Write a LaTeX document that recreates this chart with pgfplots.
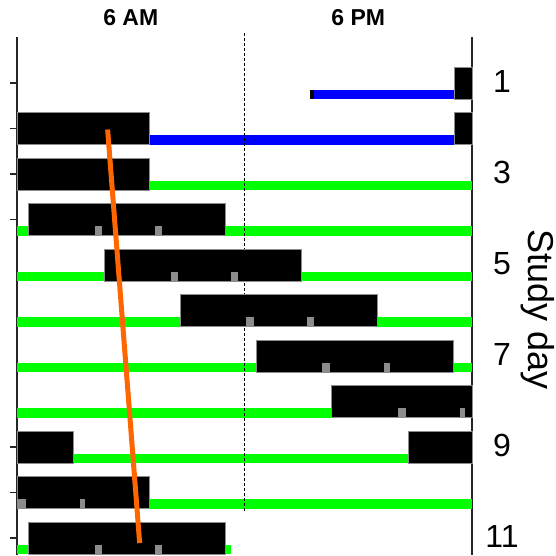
\documentclass[border=0pt]{standalone}
\usepackage{pgfplots}
\pgfplotsset{compat=1.18}
\usepackage{fontspec}
\setmainfont{Liberation Sans}
\definecolor{grn}{RGB}{0,255,0}
\definecolor{blu}{RGB}{0,0,255}
\definecolor{org}{RGB}{255,102,0}
\definecolor{mark}{RGB}{140,140,140}
\tikzset{numlbl/.style={font=\fontsize{32}{32}\selectfont}}
\begin{document}
\begin{tikzpicture}
\begin{axis}[
  at={(17pt,-37pt)}, anchor=north west,
  scale only axis, width=455pt, height=517.9pt,
  xmin=0, xmax=24, ymin=-0.363, ymax=11.02, y dir=reverse,
  axis x line=none, axis y line=box,
  xtick=\empty,
  ytick={0.65,1.65,2.65,3.65,8.65,9.65,10.65}, yticklabels={},
  ytick pos=left, tick align=outside, major tick length=7pt,
  major tick style={line width=1.5pt, black!85},
  axis line style={line width=1.5pt, black!85},
  clip=false,
]
% ---- blue lines (rows 1-2)
\addplot[fill=blu, draw=none] coordinates {(15.47,0.8) (23.06,0.8) (23.06,1) (15.47,1)} --cycle;
\addplot[fill=black, draw=none] coordinates {(15.47,0.8) (15.65,0.8) (15.65,1) (15.47,1)} --cycle;
\addplot[fill=blu, draw=none] coordinates {(7.0,1.8) (23.06,1.8) (23.06,2) (7.0,2)} --cycle;
% ---- green lines
\addplot[fill=grn, draw=none] coordinates {(7.0,2.8) (24,2.8) (24,3) (7.0,3)} --cycle;
\addplot[fill=grn, draw=none] coordinates {(0,3.8) (0.6,3.8) (0.6,4) (0,4)} --cycle;
\addplot[fill=grn, draw=none] coordinates {(11.0,3.8) (24,3.8) (24,4) (11.0,4)} --cycle;
\addplot[fill=grn, draw=none] coordinates {(0,4.8) (4.6,4.8) (4.6,5) (0,5)} --cycle;
\addplot[fill=grn, draw=none] coordinates {(15.0,4.8) (24,4.8) (24,5) (15.0,5)} --cycle;
\addplot[fill=grn, draw=none] coordinates {(0,5.8) (8.6,5.8) (8.6,6) (0,6)} --cycle;
\addplot[fill=grn, draw=none] coordinates {(19.0,5.8) (24,5.8) (24,6) (19.0,6)} --cycle;
\addplot[fill=grn, draw=none] coordinates {(0,6.8) (12.6,6.8) (12.6,7) (0,7)} --cycle;
\addplot[fill=grn, draw=none] coordinates {(23.0,6.8) (24,6.8) (24,7) (23.0,7)} --cycle;
\addplot[fill=grn, draw=none] coordinates {(0,7.8) (16.6,7.8) (16.6,8) (0,8)} --cycle;
\addplot[fill=grn, draw=none] coordinates {(2.96,8.8) (20.66,8.8) (20.66,9) (2.96,9)} --cycle;
\addplot[fill=grn, draw=none] coordinates {(7.0,9.8) (24,9.8) (24,10) (7.0,10)} --cycle;
\addplot[fill=grn, draw=none] coordinates {(0,10.8) (0.6,10.8) (0.6,11) (0,11)} --cycle;
\addplot[fill=grn, draw=none] coordinates {(11.0,10.8) (11.3,10.8) (11.3,11) (11.0,11)} --cycle;
% ---- dotted noon line
\addplot[black, line width=1.8pt, dash pattern=on 2.5pt off 2.5pt] coordinates {(12,-0.45) (12,10.1)};
% ---- black sleep boxes
\addplot[fill=black, draw=black!45, line width=0.6pt] coordinates {(23.06,0.3) (24,0.3) (24,1) (23.06,1)} --cycle;
\addplot[fill=black, draw=black!45, line width=0.6pt] coordinates {(0,1.3) (7.0,1.3) (7.0,2) (0,2)} --cycle;
\addplot[fill=black, draw=black!45, line width=0.6pt] coordinates {(23.06,1.3) (24,1.3) (24,2) (23.06,2)} --cycle;
\addplot[fill=black, draw=black!45, line width=0.6pt] coordinates {(0,2.3) (7.0,2.3) (7.0,3) (0,3)} --cycle;
\addplot[fill=black, draw=black!45, line width=0.6pt] coordinates {(0.6,3.3) (11.0,3.3) (11.0,4) (0.6,4)} --cycle;
\addplot[fill=black, draw=black!45, line width=0.6pt] coordinates {(4.6,4.3) (15.0,4.3) (15.0,5) (4.6,5)} --cycle;
\addplot[fill=black, draw=black!45, line width=0.6pt] coordinates {(8.6,5.3) (19.0,5.3) (19.0,6) (8.6,6)} --cycle;
\addplot[fill=black, draw=black!45, line width=0.6pt] coordinates {(12.6,6.3) (23.0,6.3) (23.0,7) (12.6,7)} --cycle;
\addplot[fill=black, draw=black!45, line width=0.6pt] coordinates {(16.6,7.3) (24,7.3) (24,8) (16.6,8)} --cycle;
\addplot[fill=black, draw=black!45, line width=0.6pt] coordinates {(0,8.3) (2.96,8.3) (2.96,9) (0,9)} --cycle;
\addplot[fill=black, draw=black!45, line width=0.6pt] coordinates {(20.66,8.3) (24,8.3) (24,9) (20.66,9)} --cycle;
\addplot[fill=black, draw=black!45, line width=0.6pt] coordinates {(0,9.3) (7.0,9.3) (7.0,10) (0,10)} --cycle;
\addplot[fill=black, draw=black!45, line width=0.6pt] coordinates {(0.6,10.3) (11.0,10.3) (11.0,11) (0.6,11)} --cycle;
% ---- grey markers
\addplot[fill=mark, draw=none] coordinates {(4.1,3.8) (4.5,3.8) (4.5,4) (4.1,4)} --cycle;
\addplot[fill=mark, draw=none] coordinates {(7.3,3.8) (7.65,3.8) (7.65,4) (7.3,4)} --cycle;
\addplot[fill=mark, draw=none] coordinates {(8.1,4.8) (8.5,4.8) (8.5,5) (8.1,5)} --cycle;
\addplot[fill=mark, draw=none] coordinates {(11.3,4.8) (11.65,4.8) (11.65,5) (11.3,5)} --cycle;
\addplot[fill=mark, draw=none] coordinates {(12.1,5.8) (12.5,5.8) (12.5,6) (12.1,6)} --cycle;
\addplot[fill=mark, draw=none] coordinates {(15.3,5.8) (15.65,5.8) (15.65,6) (15.3,6)} --cycle;
\addplot[fill=mark, draw=none] coordinates {(16.1,6.8) (16.5,6.8) (16.5,7) (16.1,7)} --cycle;
\addplot[fill=mark, draw=none] coordinates {(19.35,6.8) (19.65,6.8) (19.65,7) (19.35,7)} --cycle;
\addplot[fill=mark, draw=none] coordinates {(20.1,7.8) (20.5,7.8) (20.5,8) (20.1,8)} --cycle;
\addplot[fill=mark, draw=none] coordinates {(23.35,7.8) (23.65,7.8) (23.65,8) (23.35,8)} --cycle;
\addplot[fill=mark, draw=none] coordinates {(0.05,9.8) (0.45,9.8) (0.45,10) (0.05,10)} --cycle;
\addplot[fill=mark, draw=none] coordinates {(3.3,9.8) (3.6,9.8) (3.6,10) (3.3,10)} --cycle;
\addplot[fill=mark, draw=none] coordinates {(4.1,10.8) (4.5,10.8) (4.5,11) (4.1,11)} --cycle;
\addplot[fill=mark, draw=none] coordinates {(7.3,10.8) (7.65,10.8) (7.65,11) (7.3,11)} --cycle;
% ---- orange trend line
\addplot[org, line width=5pt] coordinates {(4.78,1.67) (6.47,10.76)};
% ---- text
\node[font=\bfseries\fontsize{23}{23}\selectfont] at (axis cs:6,-0.78) {6 AM};
\node[font=\bfseries\fontsize{23}{23}\selectfont] at (axis cs:18,-0.78) {6 PM};
\node[numlbl] at ([xshift=30pt]axis cs:24,0.62) {1};
\node[numlbl] at ([xshift=30pt]axis cs:24,2.62) {3};
\node[numlbl] at ([xshift=30pt]axis cs:24,4.62) {5};
\node[numlbl] at ([xshift=30pt]axis cs:24,6.62) {7};
\node[numlbl] at ([xshift=30pt]axis cs:24,8.62) {9};
\node[numlbl] at ([xshift=30pt]axis cs:24,10.62) {11};
\node[font=\fontsize{36}{36}\selectfont, rotate=-90] at ([xshift=66pt]axis cs:24,5.62) {Study day};
\end{axis}
\pgfresetboundingbox
\useasboundingbox (0,0) rectangle (556pt,-555pt);
\end{tikzpicture}
\end{document}
